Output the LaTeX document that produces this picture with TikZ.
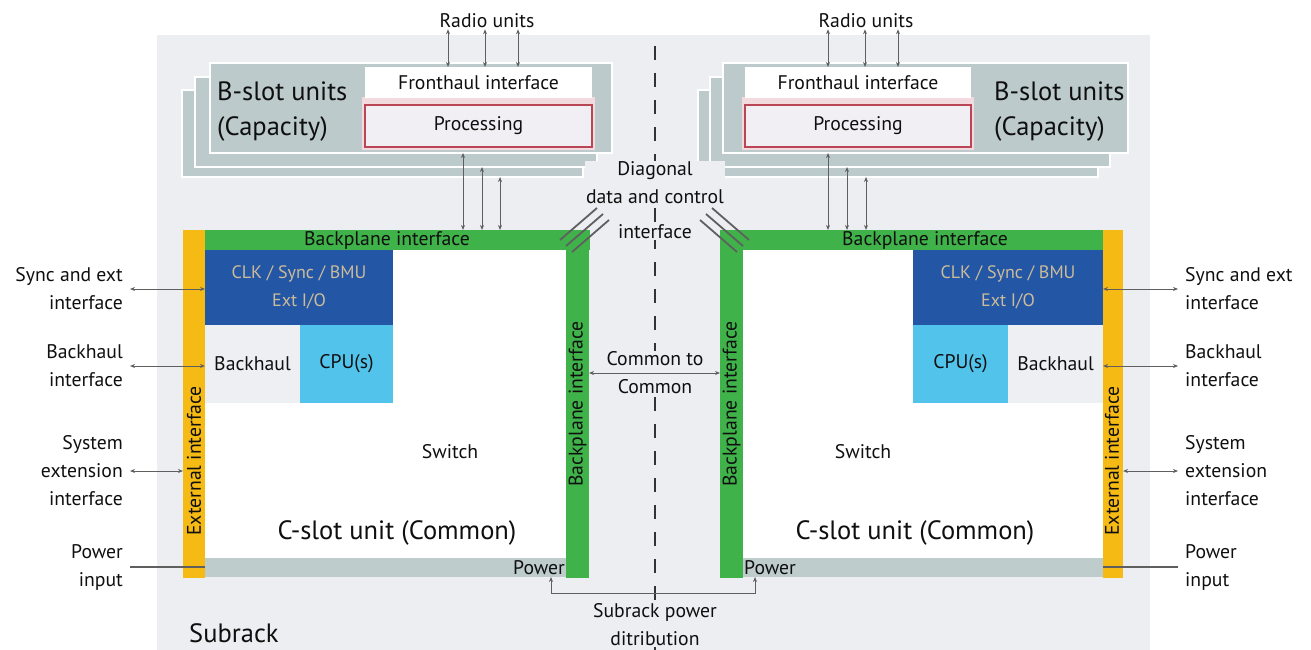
\documentclass[tikz,border=0pt]{standalone}
\usepackage{fontspec}
\setmainfont{PT Sans}
\usepackage{tikz}
\usetikzlibrary{arrows.meta,positioning}

\definecolor{subgray}{RGB}{236,238,241}
\definecolor{bslot}{RGB}{188,202,204}
\definecolor{procred}{RGB}{185,70,85}
\definecolor{procfill}{RGB}{241,239,243}
\definecolor{procglow}{RGB}{243,218,222}
\definecolor{bpgreen}{RGB}{64,178,74}
\definecolor{extyellow}{RGB}{246,186,20}
\definecolor{clkblue}{RGB}{36,86,166}
\definecolor{clktext}{RGB}{204,188,152}
\definecolor{cpublue}{RGB}{82,196,236}
\definecolor{bhgray}{RGB}{238,239,243}
\definecolor{pwrgray}{RGB}{190,204,204}
\definecolor{linegray}{RGB}{95,95,95}
\definecolor{txtcol}{RGB}{15,15,15}

\begin{document}
\begin{tikzpicture}[
    x=1pt,y=-1pt,
    box/.style={anchor=north west, inner sep=0pt, outer sep=0pt},
    lbl/.style={font=\fontsize{19.7}{28}\selectfont, align=center, inner sep=1pt, text=txtcol},
    big/.style={font=\fontsize{26.5}{35}\selectfont, align=left, inner sep=1pt, text=txtcol},
    layer/.style={box, fill=bslot, draw=white, line width=2pt, minimum height=90pt},
    bar/.style={box, fill=#1},
    link/.style={draw=linegray, line width=1pt, {Stealth[length=5pt,width=4pt]}-{Stealth[length=5pt,width=4pt]}},
    plain/.style={draw=linegray, line width=1.2pt},
    diagline/.style={draw=linegray, line width=1.8pt}
]
\useasboundingbox (0,0) rectangle (1311,650);

% Subrack background
\node[bar=subgray, minimum width=993pt, minimum height=615pt] (sub) at (157,35) {};
\node[big, anchor=west] (subt) at (188,633) {Subrack};

% Centre line
\coordinate (axT) at (655,46);
\coordinate (axB) at (655,650);
\draw[black!80, line width=2pt, dash pattern=on 14pt off 13pt] (axT) -- (axB);

% B-slot units, left
\node[layer, minimum width=401pt, minimum height=87pt] (bl3L) at (182,90) {};
\node[layer, minimum width=402pt] (bl2L) at (195,77) {};
\node[layer, minimum width=402pt] (bl1L) at (210,63) {};
\node[bar=procglow, minimum width=233pt, minimum height=53pt] (pgL) at (362,97) {};
\node[bar=white, minimum width=227pt, minimum height=31pt] (fhL) at (365,67) {};
\node[lbl] (fhLt) at (fhL.center) {Fronthaul interface};
\node[box, fill=procfill, draw=procred, line width=1.6pt, minimum width=227pt, minimum height=42pt] (prL) at (365,105) {};
\node[lbl] (prLt) at (prL.center) {Processing};
\node[big, anchor=west] (bsL) at (216,112) {B-slot units\\(Capacity)};
\node[lbl] (ruL) at (487,21) {Radio units};

% B-slot units, right
\node[layer, minimum width=400pt, minimum height=87pt] (bl3R) at (698,90) {};
\node[layer, minimum width=400pt] (bl2R) at (710,77) {};
\node[layer, minimum width=405pt] (bl1R) at (723,63) {};
\node[bar=procglow, minimum width=232pt, minimum height=53pt] (pgR) at (742,97) {};
\node[bar=white, minimum width=226pt, minimum height=31pt] (fhR) at (745,67) {};
\node[lbl] (fhRt) at (fhR.center) {Fronthaul interface};
\node[box, fill=procfill, draw=procred, line width=1.6pt, minimum width=226pt, minimum height=42pt] (prR) at (745,105) {};
\node[lbl] (prRt) at (prR.center) {Processing};
\node[big, anchor=west] (bsR) at (993,112) {B-slot units\\(Capacity)};
\node[lbl] (ruR) at (866,21) {Radio units};

% C-slot unit, left
\node[bar=white, minimum width=362pt, minimum height=308pt] (inL) at (205,250) {};
\node[bar=extyellow, minimum width=22pt, minimum height=348pt] (yelL) at (183,230) {};
\node[bar=bpgreen, minimum width=385pt, minimum height=20pt] (bptL) at (205,230) {};
\node[bar=bpgreen, minimum width=23pt, minimum height=348pt] (bpvL) at (566,230) {};
\node[bar=pwrgray, minimum width=361pt, minimum height=19pt] (pwrL) at (205,558) {};
\node[bar=clkblue, minimum width=188pt, minimum height=75pt] (clkL) at (205,250) {};
\node[bar=bhgray, minimum width=95pt, minimum height=78pt] (bhL) at (205,325) {};
\node[bar=cpublue, minimum width=93pt, minimum height=78pt] (cpuL) at (300,325) {};
\node[lbl] (bptLt) at (387,240) {Backplane interface};
\node[lbl, rotate=90] (bpvLt) at (bpvL.center) {Backplane interface};
\node[lbl, rotate=90] (yelLt) at (194,461) {External interface};
\node[lbl, font=\fontsize{18}{28}\selectfont, text=clktext] (clkLt) at (clkL.center) {CLK / Sync / BMU\\Ext I/O};
\node[lbl] (bhLt) at (bhL.center) {Backhaul};
\node[lbl] (cpuLt) at (cpuL.center) {CPU(s)};
\node[lbl] (swL) at (450,452) {Switch};
\node[big] (csL) at (397,533) {C-slot unit (Common)};
\node[lbl, anchor=east] (pwLt) at (pwrL.east) {Power};

% C-slot unit, right
\node[bar=white, minimum width=360pt, minimum height=308pt] (inR) at (743,250) {};
\node[bar=extyellow, minimum width=20pt, minimum height=348pt] (yelR) at (1103,230) {};
\node[bar=bpgreen, minimum width=383pt, minimum height=20pt] (bptR) at (720,230) {};
\node[bar=bpgreen, minimum width=23pt, minimum height=348pt] (bpvR) at (720,230) {};
\node[bar=pwrgray, minimum width=360pt, minimum height=19pt] (pwrR) at (743,558) {};
\node[bar=clkblue, minimum width=190pt, minimum height=75pt] (clkR) at (913,250) {};
\node[bar=cpublue, minimum width=95pt, minimum height=78pt] (cpuR) at (913,325) {};
\node[bar=bhgray, minimum width=95pt, minimum height=78pt] (bhR) at (1008,325) {};
\node[lbl] (bptRt) at (925,240) {Backplane interface};
\node[lbl, rotate=90] (bpvRt) at (bpvR.center) {Backplane interface};
\node[lbl, rotate=90] (yelRt) at (1112,461) {External interface};
\node[lbl, font=\fontsize{18}{28}\selectfont, text=clktext] (clkRt) at (clkR.center) {CLK / Sync / BMU\\Ext I/O};
\node[lbl] (bhRt) at (bhR.center) {Backhaul};
\node[lbl] (cpuRt) at (cpuR.center) {CPU(s)};
\node[lbl] (swR) at (863,452) {Switch};
\node[big] (csR) at (915,533) {C-slot unit (Common)};
\node[lbl, anchor=west] (pwRt) at (pwrR.west) {Power};

% Centre labels
\node[lbl, fill=subgray] (diag) at (655,183) {Diagonal\\data and control};
\node[lbl, fill=subgray] (diagb) at (655,232) {interface};
\node[lbl, fill=subgray] (c2c) at (655,373) {Common to\\Common};
\node[lbl, fill=subgray] (spd) at (655,625) {Subrack power\\ditribution};

% Outside labels, left
\node[lbl, align=right, anchor=east] (syncL) at (124,289) {Sync and ext\\interface};
\node[lbl, align=right, anchor=east] (bhsL) at (124,366) {Backhaul\\interface};
\node[lbl, align=right, anchor=east] (sysL) at (124,471) {System\\extension\\interface};
\node[lbl, align=right, anchor=east] (pwsL) at (124,567) {Power\\input};

% Outside labels, right
\node[lbl, align=left, anchor=west] (syncR) at (1184,289) {Sync and ext\\interface};
\node[lbl, align=left, anchor=west] (bhsR) at (1184,366) {Backhaul\\interface};
\node[lbl, align=left, anchor=west] (sysR) at (1184,471) {System\\extension\\interface};
\node[lbl, align=left, anchor=west] (pwsR) at (1184,567) {Power\\input};

% Radio unit links
\foreach \dx in {83,120,153} {
  \draw[link] ([xshift=\dx pt]fhL.north west |- ruL.south) -- ([xshift=\dx pt]fhL.north west);
  \draw[link] ([xshift=\dx pt]fhR.north west |- ruR.south) -- ([xshift=\dx pt]fhR.north west);
}

% B-slot to backplane links
\draw[link] ([xshift=253pt]bl1L.south west) -- ([xshift=253pt]bl1L.south west |- bptL.north);
\draw[link] ([xshift=287pt]bl2L.south west) -- ([xshift=287pt]bl2L.south west |- bptL.north);
\draw[link] ([xshift=318pt]bl3L.south west) -- ([xshift=318pt]bl3L.south west |- bptL.north);
\draw[link] ([xshift=105pt]bl1R.south west) -- ([xshift=105pt]bl1R.south west |- bptR.north);
\draw[link] ([xshift=137pt]bl2R.south west) -- ([xshift=137pt]bl2R.south west |- bptR.north);
\draw[link] ([xshift=168pt]bl3R.south west) -- ([xshift=168pt]bl3R.south west |- bptR.north);

% Diagonal links
\foreach \i in {0,1,2} {
  \draw[diagline] ([shift={(-29+6*\i,10+6*\i)}]bpvL.north east) -- ++(37,-32);
  \draw[diagline] ([shift={(29-6*\i,10+6*\i)}]bpvR.north west) -- ++(-37,-32);
}

% Common to common, power distribution
\draw[link] (bpvL.east |- c2c) -- (bpvR.west |- c2c);
\draw[link] ([xshift=-15pt]pwrL.south east) -- ++(0,16) -| ([xshift=12pt]pwrR.south west);

% External links
\draw[link] ([xshift=6pt]syncL.east) -- (clkL.west |- syncL.east);
\draw[link] ([xshift=6pt]bhsL.east) -- (bhL.west |- bhsL.east);
\draw[link] ([xshift=6pt]sysL.east) -- (yelL.west |- sysL.east);
\draw[plain] ([xshift=6pt]pwsL.east) -- (pwrL.west |- pwsL.east);
\draw[link] (clkR.east |- syncR.west) -- ([xshift=-6pt]syncR.west);
\draw[link] (bhR.east |- bhsR.west) -- ([xshift=-6pt]bhsR.west);
\draw[link] (yelR.east |- sysR.west) -- ([xshift=-6pt]sysR.west);
\draw[plain] (pwrR.east |- pwsR.west) -- ([xshift=-6pt]pwsR.west);
\end{tikzpicture}
\end{document}
